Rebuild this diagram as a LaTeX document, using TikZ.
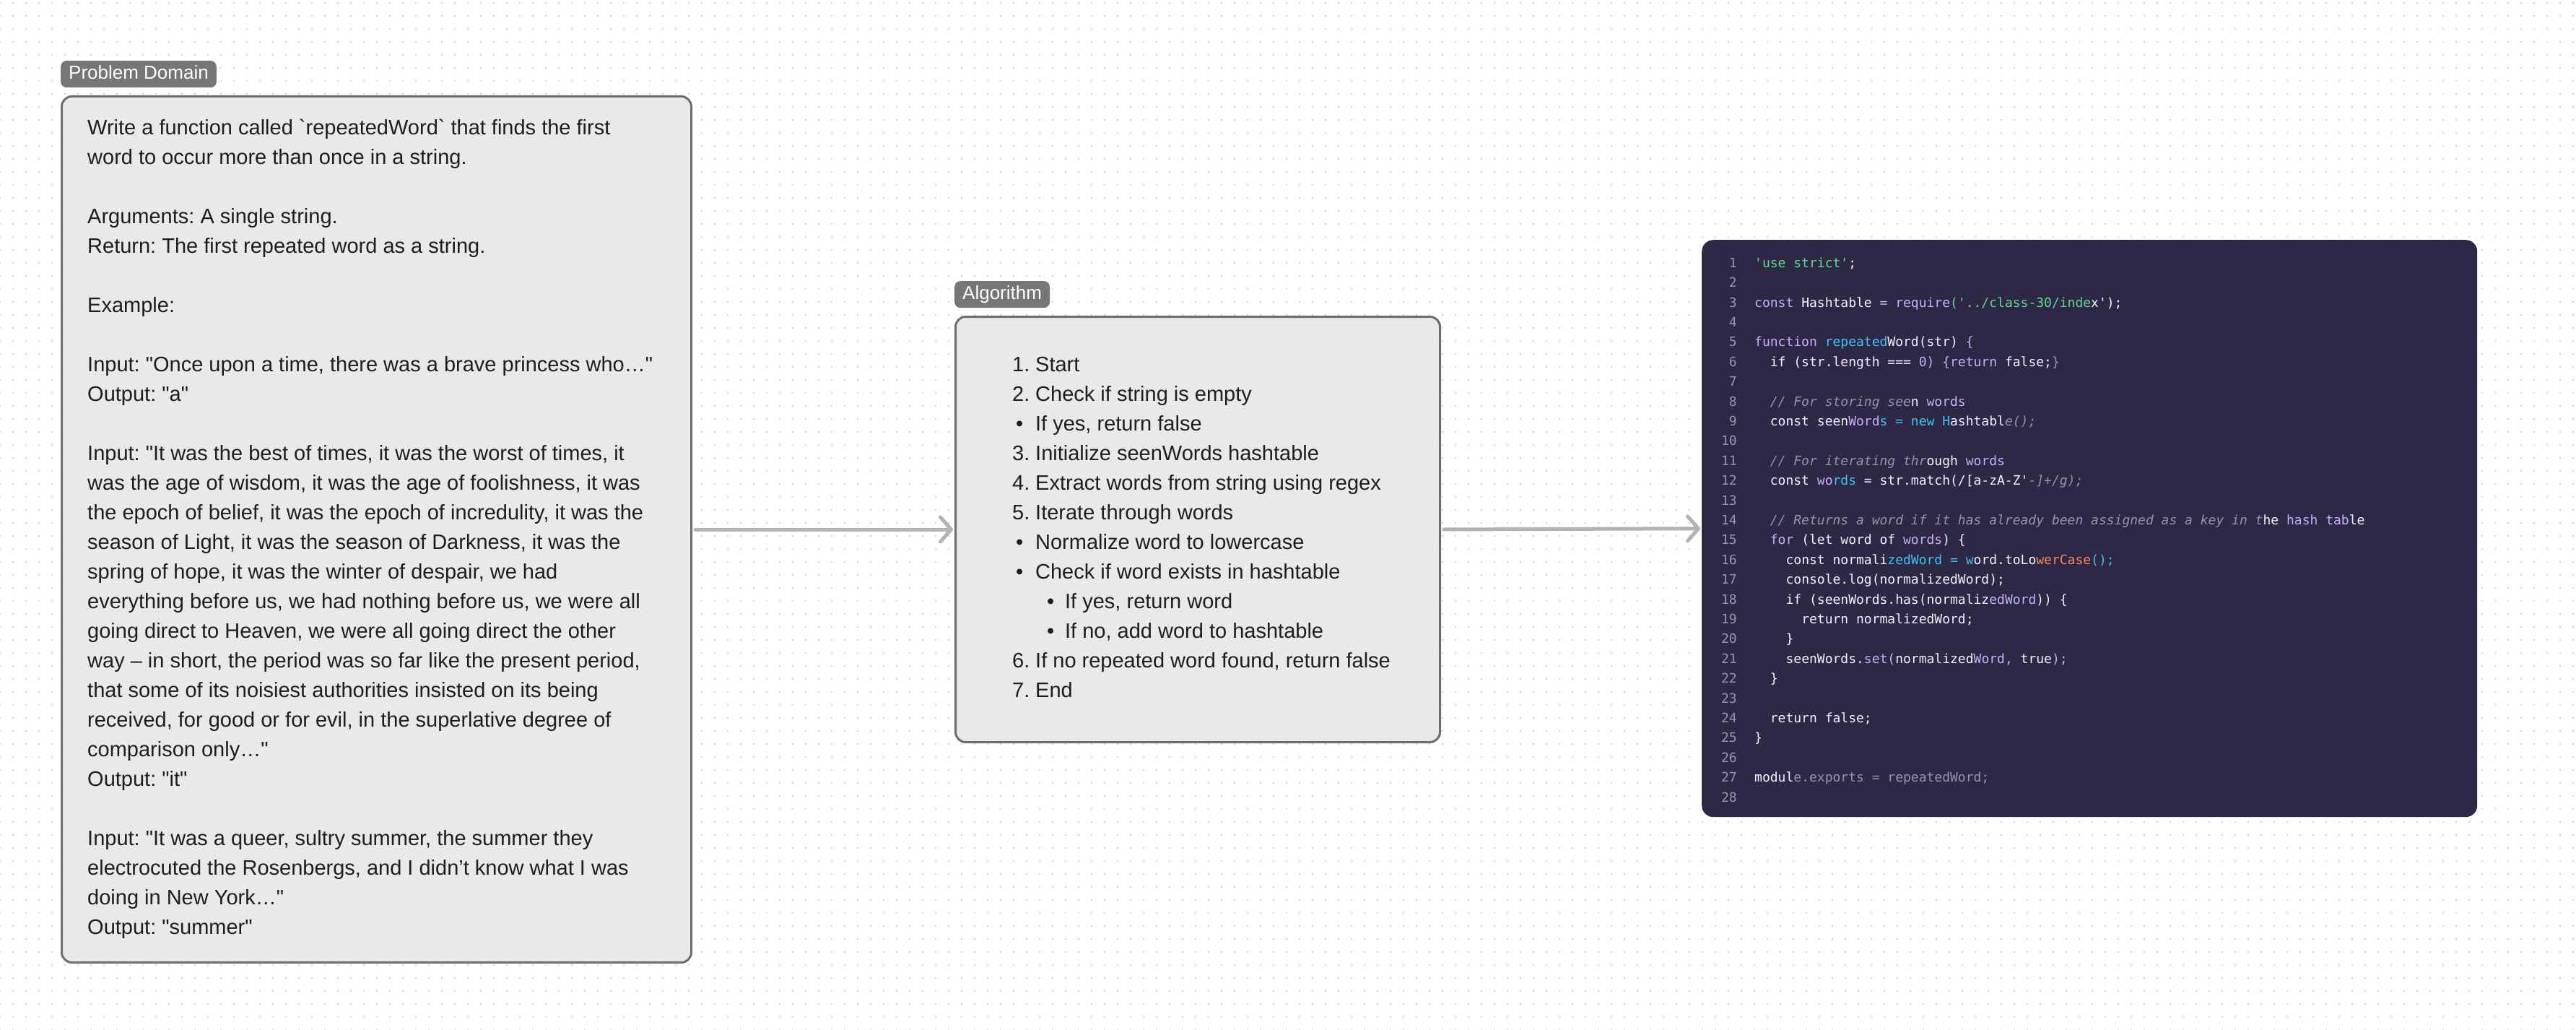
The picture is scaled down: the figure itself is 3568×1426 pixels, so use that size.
\documentclass[tikz,border=0pt]{standalone}
\usepackage{fontspec}
\setmainfont{Liberation Sans}[Ligatures=TeXOff]
\setmonofont{DejaVu Sans Mono}
\usetikzlibrary{arrows.meta,patterns.meta}
\definecolor{boxfill}{HTML}{E9E9E9}
\definecolor{boxline}{HTML}{6E6E6E}
\definecolor{tagfill}{HTML}{767676}
\definecolor{txt}{HTML}{1E1E1E}
\definecolor{arrowc}{HTML}{B3B3B3}
\definecolor{dotc}{HTML}{D4D4D4}
\definecolor{codebg}{HTML}{2E2846}
\definecolor{cw}{HTML}{F4F2FA}
\definecolor{cnum}{HTML}{9A95AE}
\definecolor{cgreen}{HTML}{5EDB8A}
\definecolor{cpurple}{HTML}{C3B2FA}
\definecolor{ccyan}{HTML}{3CC3F0}
\definecolor{ccom}{HTML}{9893A8}
\definecolor{corange}{HTML}{F58A52}
\newcommand\kgreen[1]{\textcolor{cgreen}{#1}}
\newcommand\kpurp[1]{\textcolor{cpurple}{#1}}
\newcommand\kcyan[1]{\textcolor{ccyan}{#1}}
\newcommand\kcom[1]{\textcolor{ccom}{\itshape #1}}
\newcommand\kgrey[1]{\textcolor{ccom}{#1}}
\newcommand\korange[1]{\textcolor{corange}{#1}}
\newcommand\algnum[2]{\makebox[32pt][l]{#1}#2}
\newcommand\algbul[1]{\makebox[32pt][l]{\hspace{5pt}•}#1}
\newcommand\algsub[1]{\makebox[73pt][l]{\hspace{48pt}•}#1}
\tikzset{
  panel/.style={draw=boxline, line width=3pt, fill=boxfill, rounded corners=14pt,
    anchor=north west, inner sep=0pt},
  tag/.style={fill=tagfill, text=white, rounded corners=8pt, anchor=north west,
    font=\fontsize{26}{30}\selectfont, inner xsep=11pt, inner ysep=0pt,
    minimum height=37pt, text height=19pt, text depth=5pt},
  bodytext/.style={anchor=north west, inner sep=0pt, align=left, text=txt,
    font=\frenchspacing\fontsize{29}{41}\selectfont},
  codetext/.style={anchor=north west, inner sep=0pt, align=left, text=cw,
    font=\frenchspacing\ttfamily\fontsize{18}{27.4}\selectfont},
  conn/.style={draw=arrowc, line width=5pt, line cap=round,
    -{Straight Barb[length=15pt, width=34pt, round]}, shorten <=4pt, shorten >=2pt}
}
\begin{document}
\begin{tikzpicture}[x=1pt, y=-1pt]
\useasboundingbox (0,0) rectangle (3568,1426);
\fill[white] (0,0) rectangle (3568,1426);
\fill[pattern={Dots[distance=18pt, radius=1.3pt]}, pattern color=dotc] (0,0) rectangle (3568,1426);

% Problem domain
\node[tag] (probtag) at (84,84) {Problem Domain};
\node[panel, minimum width=872pt, minimum height=1199pt] (prob) at (84,132) {};
\node[bodytext] (probtext) at (121,158) {\strut Write a function called `repeatedWord` that finds the first\\
word to occur more than once in a string.\\
\mbox{}\\
Arguments: A single string.\\
Return: The first repeated word as a string.\\
\mbox{}\\
Example:\\
\mbox{}\\
Input: "Once upon a time, there was a brave princess who…"\\
Output: "a"\\
\mbox{}\\
Input: "It was the best of times, it was the worst of times, it\\
was the age of wisdom, it was the age of foolishness, it was\\
the epoch of belief, it was the epoch of incredulity, it was the\\
season of Light, it was the season of Darkness, it was the\\
spring of hope, it was the winter of despair, we had\\
everything before us, we had nothing before us, we were all\\
going direct to Heaven, we were all going direct the other\\
way – in short, the period was so far like the present period,\\
that some of its noisiest authorities insisted on its being\\
received, for good or for evil, in the superlative degree of\\
comparison only…"\\
Output: "it"\\
\mbox{}\\
Input: "It was a queer, sultry summer, the summer they\\
electrocuted the Rosenbergs, and I didn’t know what I was\\
doing in New York…"\\
Output: "summer"};

% Algorithm
\node[tag] (algtag) at (1322,389) {Algorithm};
\node[panel, minimum width=671pt, minimum height=589pt] (alg) at (1322,437) {};
\node[bodytext] (algtext) at (1402,486) {\strut\algnum{1.}{Start}\\
\algnum{2.}{Check if string is empty}\\
\algbul{If yes, return false}\\
\algnum{3.}{Initialize seenWords hashtable}\\
\algnum{4.}{Extract words from string using regex}\\
\algnum{5.}{Iterate through words}\\
\algbul{Normalize word to lowercase}\\
\algbul{Check if word exists in hashtable}\\
\algsub{If yes, return word}\\
\algsub{If no, add word to hashtable}\\
\algnum{6.}{If no repeated word found, return false}\\
\algnum{7.}{End}};

% Code
\node[anchor=north west, fill=codebg, rounded corners=16pt, inner sep=0pt,
  minimum width=1074pt, minimum height=799pt] (code) at (2357,332) {};
\node[codetext, anchor=north east, align=right, text=cnum] (lineno) at (2406,351) {\strut 1\\2\\3\\4\\5\\6\\7\\8\\9\\10\\11\\12\\13\\14\\15\\16\\17\\18\\19\\20\\21\\22\\23\\24\\25\\26\\27\\28};
\node[codetext] (codetext) at (2430,351) {\strut\kgreen{'use strict'};\\
\mbox{}\\
\kpurp{const} Hashtable \kpurp{= require}\kgreen{('../class-30/inde}x');\\
\mbox{}\\
\kpurp{function} \kcyan{repeated}Word(str) \kpurp{\{}\\
~~if (str.length === \kpurp{0)} \kpurp{\{return} false;\kgrey{\}}\\
\mbox{}\\
~~\kcom{// For storing see}n \kpurp{words}\\
~~const seen\kpurp{Word}\kcyan{s = new H}ashtabl\kcom{e();}\\
\mbox{}\\
~~\kcom{// For iterating thr}ough \kpurp{words}\\
~~const \kpurp{wo}\kcyan{rds} = str.match(/[a-zA-Z'\kcom{-]+/g);}\\
\mbox{}\\
~~\kcom{// Returns a word if it has already been assigned as a key in t}he \kpurp{hash tab}le\\
~~\kpurp{for} (let word of \kpurp{words}) \{\\
~~~~const normali\kcyan{zedWord =} \kcyan{w}ord.toLo\korange{werCase}\kcyan{();}\\
~~~~console.log(normalizedWord);\\
~~~~if (seenWords.has(normaliz\kpurp{edWord})) \{\\
~~~~~~return normalizedWord;\\
~~~~\}\\
~~~~seenWords.\kpurp{set(}normalized\kpurp{Word,} true\kpurp{);}\\
~~\}\\
\mbox{}\\
~~return false;\\
\}\\
\mbox{}\\
modul\kgrey{e.exports = repeatedWord;}\\
\mbox{}};

% Connectors
\draw[conn] (prob.east) -- (alg.west);
\draw[conn] (alg.east) -- (code.west);
\end{tikzpicture}
\end{document}
